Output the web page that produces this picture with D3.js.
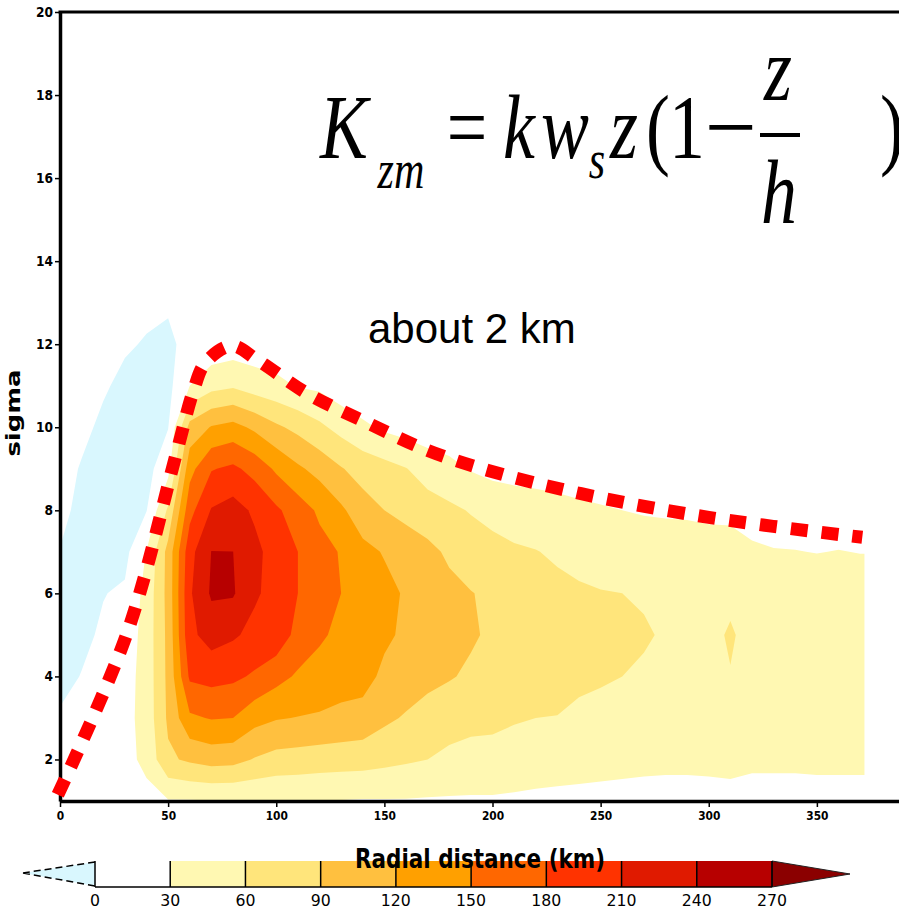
<!DOCTYPE html>
<html><head><meta charset="utf-8">
<script src="https://cdn.jsdelivr.net/npm/d3@7"></script>
<style>
html,body{margin:0;padding:0;background:#fff;}
svg{display:block;}
</style></head>
<body>
<svg id="chart" width="899" height="912"></svg>
<script>
// ---------------- data ----------------
const radii = [0,10,20,30,40,50,60,70,80,90,100,110,120,130,140,150,160,170,180,190,200,210,220,230,240,250,260,270,280,290,300,310,320,330,340,350,360,370,380];
const sigmaLevels = [1,2,3,4,5,6,7,8,9,10,11,12,13,14];
// vertical profile at each radius (values at sigma 1..14)
const profiles = [
 [10, 5, 3, -8, -10, -8, -1, 8, 10, 10, 10, 10, 10, 10],
 [12, 8, 5, 1, -6, -10, -10, -8, -2, 6, 10, 10, 10, 10],
 [15, 14, 12, 8, 4, -1, -8, -10, -10, -5, 3, 10, 10, 10],
 [18, 20, 20, 18, 12, 4, -8, -10, -10, -10, -6, 3, 10, 10],
 [20, 38, 42, 42, 42, 40, 31, -1, -10, -10, -10, -2, 6, 10],
 [28, 85, 95, 97, 98, 100, 100, 65, 20, -1, -8, -5, 3, 8],
 [28, 95, 145, 185, 203, 206, 200, 170, 140, 100, 30, 8, 6, 10],
 [29, 102, 152, 190, 222, 244, 240.5, 212, 178, 122, 50, 10, 5, 8],
 [29, 100, 150, 186, 214, 243, 240.2, 222, 186, 130, 56, 14, 5, 8],
 [29, 88, 130, 176, 202, 214, 218, 205, 170, 114, 45, 12, 5, 8],
 [29, 80, 122, 160, 200, 200, 197, 185, 145, 95, 38, 10, 5, 8],
 [29, 78, 119, 146, 170, 180, 180, 165, 125, 82, 28, 8, 5, 8],
 [29, 75, 117, 137, 155, 162, 160, 145, 110, 66, 24, 8, 5, 8],
 [29, 73, 114, 130, 142, 150, 148, 125, 92, 50, 12, 7, 5, 8],
 [28, 72, 110, 130, 132, 135, 128, 103, 78, 36, 5, 6, 5, 8],
 [28, 68, 96, 114, 125, 128, 118, 90, 70, 25, 8, 5, 5, 8],
 [28, 64, 87, 106, 115, 117, 105, 82, 61, 18, 8, 5, 5, 8],
 [27, 60, 80, 97, 106, 107, 98, 72, 48, 12, 6, 5, 5, 8],
 [27, 52, 75, 92, 100, 98, 85, 66, 38, 12, 5, 5, 5, 8],
 [27, 48, 70, 86, 93, 91, 76, 58, 28, 10, 5, 5, 5, 8],
 [27, 48, 68, 80, 86, 85, 70, 50, 22, 8, 5, 5, 5, 8],
 [26, 45, 63, 74, 78, 76, 64, 45, 20, 8, 5, 5, 5, 8],
 [25, 42, 60, 70, 74, 72, 61, 43, 18, 8, 5, 5, 5, 8],
 [24, 41, 59.5, 67, 70, 67, 56, 40, 16, 7, 5, 5, 5, 8],
 [23, 40, 54, 66, 67, 63, 53, 36, 14, 7, 5, 5, 5, 8],
 [22, 39, 52, 63, 65, 61, 50, 33, 12, 6, 5, 5, 5, 8],
 [21, 38, 49, 60, 64, 60, 48, 30, 11, 6, 5, 5, 5, 8],
 [20, 37, 47, 56, 63, 57, 43, 28, 10, 6, 5, 5, 5, 8],
 [20, 36, 45, 52, 57, 54, 42, 27, 10, 6, 5, 5, 5, 8],
 [20, 36, 43, 49, 52, 50, 40, 27, 10, 6, 5, 5, 5, 8],
 [20, 37, 42, 48, 50, 48, 38, 26, 9, 6, 5, 5, 5, 8],
 [21, 38, 44, 58.5, 64, 52, 37, 26, 9, 6, 5, 5, 5, 8],
 [20, 35, 42, 46, 48, 45, 33, 22, 9, 6, 5, 5, 5, 8],
 [20, 35, 41, 45, 46, 43, 31, 20, 8, 6, 5, 5, 5, 8],
 [20, 35, 41, 44, 45, 42, 30.5, 20, 8, 6, 5, 5, 5, 8],
 [20, 36, 41, 44, 45, 42, 29.5, 20, 8, 6, 5, 5, 5, 8],
 [20, 36, 41, 44, 45, 42, 30.5, 20, 8, 6, 5, 5, 5, 8],
 [20, 36, 41, 44, 44, 41, 29.5, 20, 8, 6, 5, 5, 5, 8],
 [20, 36, 41, 44, 44, 41, 29.5, 20, 8, 6, 5, 5, 5, 8]
];
const dataMaxRadius = 372;
const levels = [0, 30, 60, 90, 120, 150, 180, 210, 240, 270];
const levelColors = ["#ffffff", "#fff8b2", "#ffe57b", "#ffc03f", "#ffa000", "#ff6700", "#ff3300", "#e01a00", "#b70000"];
const belowColor = "#d9f7fe";
const aboveColor = "#8b0000";
const colorbarLabels = ["0","30","60","90","120","150","180","210","240","270"];
const xTicks = [0, 50, 100, 150, 200, 250, 300, 350];
const yTicks = [2, 4, 6, 8, 10, 12, 14, 16, 18, 20];
// dashed boundary-layer top annotation [radius, sigma]
const pblTop = [[-1,1.15],[31,5.04],[53.8,9.37],[61.7,10.88],[67.2,11.55],[79.3,11.96],[91.8,11.6],[114.5,10.81],[142.8,10.09],[170.1,9.44],[198,8.96],[241,8.4],[300,7.83],[371,7.35]];

// ---------------- drawing ----------------
const svg = d3.select("#chart");
const x = d3.scaleLinear().domain([0, 400]).range([60, 925]);
const y = d3.scaleLinear().domain([1, 20]).range([801, 12]);

const nx = radii.length, ny = sigmaLevels.length;
const grid = new Array(nx * ny);
for (let j = 0; j < ny; j++) for (let i = 0; i < nx; i++) grid[j * nx + i] = profiles[i][j];

const gx2r = d3.scaleLinear().domain([0.5, nx - 0.5]).range([radii[0], radii[nx - 1]]);
const gy2s = d3.scaleLinear().domain([0.5, ny - 0.5]).range([sigmaLevels[0], sigmaLevels[ny - 1]]);
const proj = d3.geoTransform({ point(px, py) { this.stream.point(x(gx2r(px)), y(gy2s(py))); } });
const path = d3.geoPath(proj);

svg.append("defs").append("clipPath").attr("id", "dataClip")
  .append("rect")
  .attr("x", x(0)).attr("y", y(20))
  .attr("width", x(dataMaxRadius) - x(0)).attr("height", y(1) - y(20));

const cg = svg.append("g").attr("clip-path", "url(#dataClip)");

// negative region (below 0)
const neg = d3.contours().size([nx, ny]).thresholds([1e-6])(grid.map(v => -v));
cg.selectAll("path.neg").data(neg).join("path").attr("class", "neg")
  .attr("d", path).attr("fill", belowColor);

// positive bands
const bands = d3.contours().size([nx, ny]).thresholds(levels.slice(1))(grid);
cg.selectAll("path.band").data(bands).join("path").attr("class", "band")
  .attr("d", path)
  .attr("fill", d => { const k = levels.indexOf(d.value); return k < levelColors.length ? levelColors[k] : aboveColor; });

// axes
const tickFont = "'DejaVu Sans Condensed','DejaVu Sans',sans-serif";
const yAxis = svg.append("g").attr("transform", `translate(${x(0)},0)`)
  .call(d3.axisLeft(y).tickValues(yTicks).tickSize(5).tickSizeOuter(0).tickPadding(2));
yAxis.select(".domain").attr("stroke", "#000").attr("stroke-width", 3.5);
yAxis.selectAll(".tick line").attr("stroke", "#000").attr("stroke-width", 1.5);
yAxis.selectAll(".tick text").attr("font-family", tickFont).attr("font-weight", "bold")
  .attr("font-size", 14).attr("fill", "#000")
  .attr("textLength", d => String(d).length * 8.5).attr("lengthAdjust", "spacingAndGlyphs");

const xAxis = svg.append("g").attr("transform", `translate(0,${y(1)})`)
  .call(d3.axisBottom(x).tickValues(xTicks).tickSize(6).tickSizeOuter(0).tickPadding(4));
xAxis.select(".domain").attr("stroke", "#000").attr("stroke-width", 3.5);
xAxis.selectAll(".tick line").attr("stroke", "#000").attr("stroke-width", 1.5);
xAxis.selectAll(".tick text").attr("font-family", tickFont).attr("font-weight", "bold")
  .attr("font-size", 13).attr("fill", "#000")
  .attr("textLength", d => String(d).length * 7.4).attr("lengthAdjust", "spacingAndGlyphs");

// top frame line
svg.append("line").attr("x1", x(0) - 1.5).attr("x2", x(400)).attr("y1", y(20)).attr("y2", y(20))
  .attr("stroke", "#000").attr("stroke-width", 3);

// y axis title
svg.append("text").attr("transform", "translate(20,413) rotate(-90)").attr("text-anchor", "middle")
  .attr("font-family", "'DejaVu Sans',sans-serif").attr("font-weight", "bold").attr("font-size", 20)
  .attr("textLength", 87).attr("lengthAdjust", "spacingAndGlyphs").text("sigma");

// dashed annotation line
const line = d3.line().x(d => x(d[0])).y(d => y(d[1])).curve(d3.curveCatmullRom.alpha(0.5));
svg.append("path").datum(pblTop).attr("d", line).attr("fill", "none")
  .attr("stroke", "#ff0000").attr("stroke-width", 13).attr("stroke-dasharray", "17,14");

// colorbar
const cb = d3.scaleLinear().domain([levels[0], levels[levels.length - 1]]).range([95, 772]);
const cbTop = 861, cbBot = 887, cbMid = 874;
const cbar = svg.append("g");
cbar.selectAll("rect").data(levelColors).join("rect")
  .attr("x", (d, i) => cb(levels[i])).attr("y", cbTop)
  .attr("width", (d, i) => cb(levels[i + 1]) - cb(levels[i])).attr("height", cbBot - cbTop)
  .attr("fill", d => d);
cbar.append("path").attr("d", `M${cb(levels[0])},${cbTop + 1}L23,${cbMid - 1}L${cb(levels[0])},${cbBot - 1}Z`)
  .attr("fill", belowColor);
cbar.append("path").attr("d", `M${cb(levels[0])},${cbTop + 1}L23,${cbMid - 1}M23,${cbMid - 1}L${cb(levels[0])},${cbBot - 1}`)
  .attr("fill", "none").attr("stroke", "#000").attr("stroke-width", 1.5).attr("stroke-dasharray", "7,4");
const last = levels[levels.length - 1];
cbar.append("path").attr("d", `M${cb(last)},${cbTop}L850,${cbMid}L${cb(last)},${cbBot}Z`)
  .attr("fill", aboveColor).attr("stroke", "#222").attr("stroke-width", 1);
cbar.selectAll("line.sep").data(levels).join("line").attr("class", "sep")
  .attr("x1", d => cb(d)).attr("x2", d => cb(d)).attr("y1", cbTop).attr("y2", cbBot)
  .attr("stroke", "#000").attr("stroke-width", 1.5);
cbar.append("line").attr("x1", cb(levels[0])).attr("x2", cb(last)).attr("y1", cbBot).attr("y2", cbBot)
  .attr("stroke", "#000").attr("stroke-width", 1.5);
cbar.selectAll("text").data(colorbarLabels).join("text")
  .attr("x", (d, i) => cb(levels[i])).attr("y", 906).attr("text-anchor", "middle")
  .attr("font-family", tickFont).attr("font-size", 15).attr("fill", "#000")
  .attr("textLength", d => d.length * 10).attr("lengthAdjust", "spacingAndGlyphs")
  .text(d => d);

// x axis title (drawn over the colorbar, as in the original)
svg.append("text").attr("x", 480).attr("y", 868).attr("text-anchor", "middle")
  .attr("font-family", "'DejaVu Sans',sans-serif").attr("font-weight", "bold").attr("font-size", 27)
  .attr("textLength", 250).attr("lengthAdjust", "spacingAndGlyphs").text("Radial distance (km)");

// annotation texts
svg.append("text").attr("x", 368).attr("y", 343)
  .attr("font-family", "'Liberation Sans',Arial,sans-serif").attr("font-size", 42).attr("fill", "#000")
  .text("about 2 km");

const eq = svg.append("g").attr("font-family", "'Liberation Serif','Times New Roman',serif").attr("fill", "#000");
const eqParts = [
  {t: "K", x: 344, y: 158, s: 92, i: true, sx: 0.78},
  {t: "zm", x: 401, y: 188, s: 54, i: true, sx: 0.78},
  {t: "=", x: 467, y: 158, s: 92, i: false, sx: 0.78},
  {t: "k", x: 519, y: 158, s: 92, i: true, sx: 0.78},
  {t: "w", x: 565, y: 158, s: 92, i: true, sx: 0.78},
  {t: "s", x: 597, y: 178, s: 54, i: true, sx: 0.78},
  {t: "z", x: 624, y: 158, s: 92, i: true, sx: 0.78},
  {t: "(", x: 658, y: 158, s: 92, i: false, sx: 0.78},
  {t: "1", x: 687, y: 158, s: 92, i: false, sx: 0.78},
  {t: "\u2212", x: 731, y: 158, s: 92, i: false, sx: 1.0},
  {t: "z", x: 778, y: 100, s: 92, i: true, sx: 0.78},
  {t: "h", x: 779, y: 223, s: 92, i: true, sx: 0.78},
  {t: ")", x: 892, y: 158, s: 92, i: false, sx: 0.78}
];
eq.selectAll("text").data(eqParts).join("text")
  .attr("transform", d => `translate(${d.x},${d.y}) scale(${d.sx},1)`)
  .attr("text-anchor", "middle")
  .attr("font-size", d => d.s).attr("font-style", d => d.i ? "italic" : "normal")
  .text(d => d.t);
eq.append("line").attr("x1", 760).attr("x2", 800).attr("y1", 135).attr("y2", 135)
  .attr("stroke", "#000").attr("stroke-width", 4);
</script>
</body></html>
